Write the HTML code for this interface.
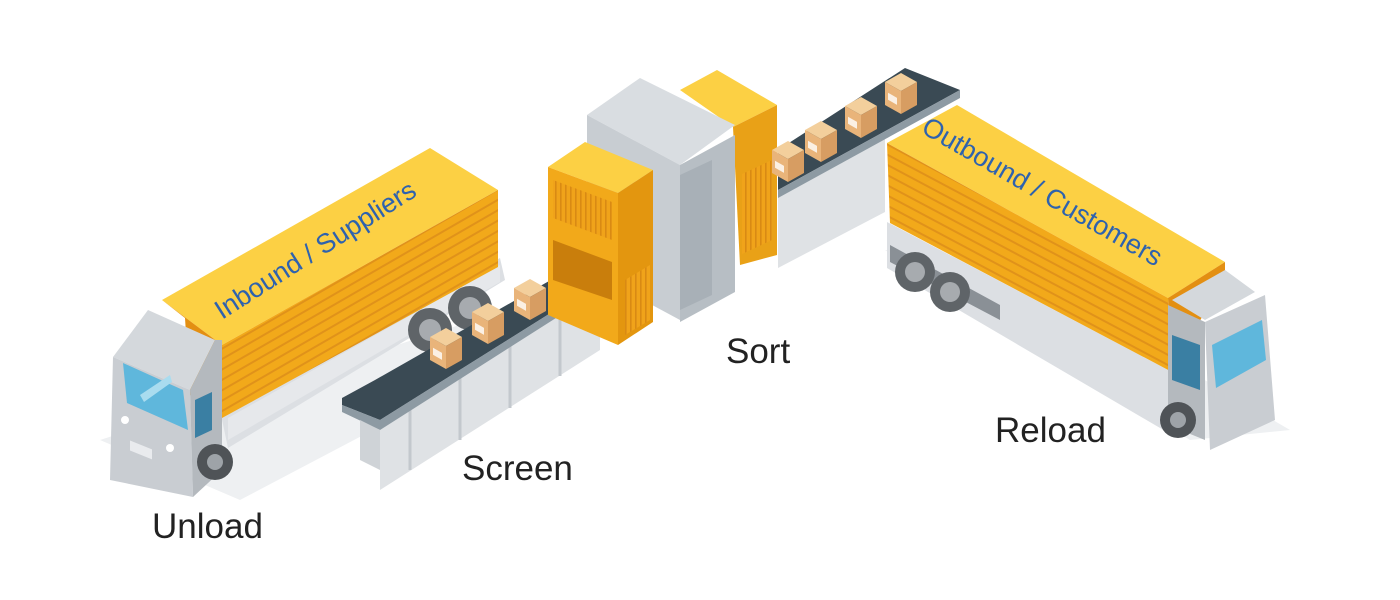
<!DOCTYPE html>
<html><head><meta charset="utf-8"><style>
html,body{margin:0;padding:0;background:#fff;}
svg{display:block}
text{font-family:"Liberation Sans","DejaVu Sans",sans-serif;}
</style></head><body>
<svg width="1400" height="600" viewBox="0 0 1400 600" xmlns="http://www.w3.org/2000/svg">
<defs>
<pattern id="stripes" width="10" height="9" patternUnits="userSpaceOnUse" patternTransform="rotate(-30)">
<rect width="10" height="9" fill="#f2a91a"/><rect y="7" width="10" height="2" fill="#e0921a"/>
</pattern>
<pattern id="stripesR" width="10" height="9" patternUnits="userSpaceOnUse" patternTransform="rotate(28)">
<rect width="10" height="9" fill="#f2a91a"/><rect y="7" width="10" height="2" fill="#e0921a"/>
</pattern>
<pattern id="vents" width="5" height="10" patternUnits="userSpaceOnUse">
<rect width="5" height="10" fill="#f0a31a"/><rect width="1.6" height="10" fill="#d98a14"/>
</pattern>
<g id="box">
<polygon points="0,-8 16,-17 32,-8 16,1" fill="#f3cf9c"/>
<polygon points="0,-8 16,1 16,24 0,15" fill="#e9b47a"/>
<polygon points="16,1 32,-8 32,15 16,24" fill="#d79d62"/>
<rect x="3" y="3" width="9" height="7" fill="#fff" opacity=".8" transform="skewY(30) translate(0,-2)"/>
</g>
</defs>

<!-- ground shadows -->
<polygon points="100,440 240,500 620,300 600,280" fill="#eef0f2"/>
<polygon points="885,250 1190,440 1290,430 1000,260" fill="#eef0f2"/>

<!-- ===== LEFT TRUCK ===== -->
<!-- chassis -->
<polygon points="220,410 500,258 505,280 228,448" fill="#dcdfe3"/>
<polygon points="228,418 500,265 500,282 228,440" fill="#e6e8eb"/>
<circle cx="430" cy="330" r="22" fill="#5f6468"/><circle cx="430" cy="330" r="11" fill="#a7abaf"/>
<circle cx="470" cy="308" r="22" fill="#5f6468"/><circle cx="470" cy="308" r="11" fill="#a7abaf"/>
<!-- trailer -->
<polygon points="162,300 430,148 498,190 222,345" fill="#fcd044"/>
<polygon points="222,345 498,190 498,267 222,418" fill="url(#stripes)"/>
<polygon points="162,300 222,345 222,418 190,395 185,318" fill="#e38f12"/>
<!-- cab -->
<polygon points="113,357 148,310 215,340 190,390" fill="#d4d8dc"/>
<polygon points="113,357 190,390 193,497 110,480" fill="#c9cdd2"/>
<polygon points="190,390 215,340 222,340 222,470 193,497" fill="#b4b9be"/>
<polygon points="123,363 183,390 188,430 127,403" fill="#5fb7dc"/>
<polygon points="140,395 170,375 172,382 144,402" fill="#a9dcef"/>
<polygon points="195,400 212,392 212,430 195,438" fill="#3a7fa3"/>
<circle cx="125" cy="420" r="4" fill="#fff"/><circle cx="170" cy="448" r="4" fill="#fff"/>
<rect x="130" y="440" width="22" height="10" fill="#e9ebee" transform="skewY(22) translate(0,-52)"/>
<circle cx="215" cy="462" r="18" fill="#4f5357"/><circle cx="215" cy="462" r="8" fill="#9ea3a8"/>

<!-- ===== LEFT CONVEYOR ===== -->
<polygon points="380,420 600,282 600,350 380,490" fill="#dfe2e5"/>
<g stroke="#c3c8cd" stroke-width="3">
<line x1="410" y1="402" x2="410" y2="470"/><line x1="460" y1="371" x2="460" y2="440"/>
<line x1="510" y1="340" x2="510" y2="408"/><line x1="560" y1="308" x2="560" y2="376"/>
</g>
<polygon points="342,398 375,380 600,252 600,282 380,420 342,405" fill="#3a4a54"/>
<polygon points="342,405 380,420 600,282 600,290 380,430 342,412" fill="#8d9aa3"/>
<polygon points="360,420 380,430 380,470 360,460" fill="#cfd3d7"/>
<use href="#box" x="430" y="345"/>
<use href="#box" x="472" y="320"/>
<use href="#box" x="514" y="296"/>
<use href="#box" x="556" y="272"/>

<!-- ===== CENTRAL MACHINE ===== -->
<!-- right yellow (back) -->
<polygon points="680,90 717,70 777,105 733,127" fill="#fcd044"/>
<polygon points="733,127 777,105 777,255 740,265" fill="#e9a117"/>
<rect x="742" y="180" width="30" height="80" fill="url(#vents)" transform="skewY(-25) translate(0,340)"/>
<!-- grey box -->
<polygon points="587,115 640,78 735,125 680,165" fill="#d9dde1"/>
<polygon points="587,115 680,165 680,320 587,270" fill="#c8cdd2"/>
<polygon points="680,165 735,135 735,292 680,322" fill="#b7bec4"/>
<polygon points="680,175 712,160 712,295 680,310" fill="#a8b0b7"/>
<!-- right conveyor -->
<polygon points="778,192 885,137 885,212 778,268" fill="#dfe2e5"/>
<polygon points="778,150 905,68 960,90 778,190" fill="#3a4a54"/>
<polygon points="778,190 960,90 960,98 778,198" fill="#8d9aa3"/>
<use href="#box" x="772" y="158"/>
<use href="#box" x="805" y="138"/>
<use href="#box" x="845" y="114"/>
<use href="#box" x="885" y="90"/>
<!-- left yellow -->
<polygon points="548,167 585,142 653,170 618,193" fill="#fcd044"/>
<polygon points="548,167 618,193 618,345 548,315" fill="#f2a91a"/>
<polygon points="618,193 653,170 653,322 618,345" fill="#e3960f"/>
<polygon points="553,180 612,202 612,240 553,218" fill="url(#vents)"/>
<polygon points="625,280 650,265 650,320 625,335" fill="url(#vents)"/>
<polygon points="553,240 612,262 612,300 553,280" fill="#c97e0c"/>

<!-- ===== RIGHT TRUCK ===== -->
<polygon points="887,222 1172,372 1172,435 887,268" fill="#dcdfe3"/>
<polygon points="890,245 1000,305 1000,320 890,262" fill="#8a9096"/>
<circle cx="915" cy="272" r="20" fill="#5f6468"/><circle cx="915" cy="272" r="10" fill="#a7abaf"/>
<circle cx="950" cy="292" r="20" fill="#5f6468"/><circle cx="950" cy="292" r="10" fill="#a7abaf"/>
<polygon points="887,143 957,105 1225,262 1168,298" fill="#fcd044"/>
<polygon points="887,143 1168,298 1172,372 890,223" fill="url(#stripesR)"/>
<polygon points="1168,298 1225,262 1225,275 1172,372" fill="#e38f12"/>
<!-- cab -->
<polygon points="1172,300 1225,270 1255,292 1205,320" fill="#d4d8dc"/>
<polygon points="1168,305 1205,322 1205,440 1168,425" fill="#b4b9be"/>
<polygon points="1205,322 1265,295 1275,420 1210,450" fill="#c9cdd2"/>
<polygon points="1212,345 1262,320 1266,360 1216,388" fill="#5fb7dc"/>
<polygon points="1172,335 1200,345 1200,390 1172,380" fill="#3a7fa3"/>
<circle cx="1178" cy="420" r="18" fill="#4f5357"/><circle cx="1178" cy="420" r="8" fill="#9ea3a8"/>

<!-- trailer text -->
<text x="0" y="0" font-size="27" fill="#2e62ae" transform="translate(222,320) rotate(-32.5)" font-family="Liberation Sans, sans-serif">Inbound / Suppliers</text>
<text x="0" y="0" font-size="27" fill="#2e62ae" transform="translate(920,132) rotate(29.8)">Outbound / Customers</text>

<!-- labels -->
<text x="152" y="538" font-size="35" fill="#222">Unload</text>
<text x="462" y="480" font-size="35" fill="#222">Screen</text>
<text x="726" y="363" font-size="35" fill="#222">Sort</text>
<text x="995" y="442" font-size="35" fill="#222">Reload</text>
</svg>
</body></html>
